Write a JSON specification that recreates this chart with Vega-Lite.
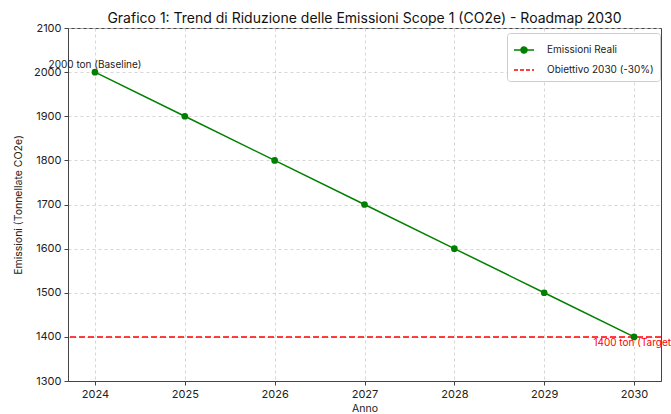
{
  "$schema": "https://vega.github.io/schema/vega-lite/v6.json",
  "width": 593,
  "height": 353,
  "autosize": "none",
  "padding": {"left": 68, "top": 28, "right": 10, "bottom": 33},
  "background": "white",
  "title": {
    "text": "Grafico 1: Trend di Riduzione delle Emissioni Scope 1 (CO2e) - Roadmap 2030",
    "fontSize": 14,
    "font": "Inter",
    "fontWeight": "normal",
    "color": "#111111",
    "anchor": "middle",
    "offset": -4
  },
  "config": {
    "font": "Inter",
    "view": {"stroke": "#444444", "strokeWidth": 1},
    "axis": {
      "domainColor": "#444444",
      "tickColor": "#444444",
      "tickSize": 4,
      "labelFontSize": 11,
      "labelColor": "#222222",
      "titleFontSize": 10.5,
      "titleFontWeight": "normal",
      "titleColor": "#222222",
      "gridDash": [3, 3],
      "gridColor": "#cccccc",
      "gridWidth": 0.8
    }
  },
  "layer": [
    {
      "data": {"values": [{"serie": "Obiettivo 2030 (-30%)", "valore": 1400}]},
      "mark": {"type": "rule", "strokeDash": [6, 3], "strokeWidth": 1.5},
      "encoding": {
        "y": {"field": "valore", "type": "quantitative", "scale": {"domain": [1300, 2100], "nice": false, "zero": false}},
        "color": {"field": "serie", "type": "nominal"}
      }
    },
    {
      "data": {"values": [
        {"anno": 2024, "emissioni": 2000, "serie": "Emissioni Reali"},
        {"anno": 2025, "emissioni": 1900, "serie": "Emissioni Reali"},
        {"anno": 2026, "emissioni": 1800, "serie": "Emissioni Reali"},
        {"anno": 2027, "emissioni": 1700, "serie": "Emissioni Reali"},
        {"anno": 2028, "emissioni": 1600, "serie": "Emissioni Reali"},
        {"anno": 2029, "emissioni": 1500, "serie": "Emissioni Reali"},
        {"anno": 2030, "emissioni": 1400, "serie": "Emissioni Reali"}
      ]},
      "mark": {"type": "line", "strokeWidth": 1.5, "point": {"filled": true, "size": 45, "color": "#008000", "opacity": 1}},
      "encoding": {
        "x": {
          "field": "anno", "type": "quantitative", "title": "Anno",
          "scale": {"domain": [2023.7, 2030.3], "nice": false, "zero": false},
          "axis": {"values": [2024, 2025, 2026, 2027, 2028, 2029, 2030], "format": "d", "labelPadding": 3, "titlePadding": 4}
        },
        "y": {
          "field": "emissioni", "type": "quantitative", "title": "Emissioni (Tonnellate CO2e)",
          "scale": {"domain": [1300, 2100], "nice": false, "zero": false},
          "axis": {"values": [1300, 1400, 1500, 1600, 1700, 1800, 1900, 2000, 2100], "format": "d", "labelPadding": 3, "titlePadding": 10}
        },
        "color": {
          "field": "serie", "type": "nominal",
          "scale": {"domain": ["Emissioni Reali", "Obiettivo 2030 (-30%)"], "range": ["#008000", "#ff0000"]},
          "legend": {
            "title": null,
            "orient": "none",
            "legendX": 439,
            "legendY": 5,
            "padding": 6,
            "strokeColor": "#cccccc",
            "fillColor": "white",
            "cornerRadius": 3,
            "labelFontSize": 10,
            "labelColor": "#222222",
            "labelOffset": 12,
            "rowPadding": 3,
            "symbolSize": 400,
            "symbolStrokeWidth": 1.5,
            "encode": {
              "symbols": {
                "update": {
                  "shape": [
                    {"test": "datum.value === 'Emissioni Reali'", "value": "M-1,0L1,0M-0.3,0A0.3,0.3 0 1,0 0.3,0A0.3,0.3 0 1,0 -0.3,0Z"},
                    {"value": "M-1,0L1,0"}
                  ],
                  "fill": [
                    {"test": "datum.value === 'Emissioni Reali'", "value": "#008000"},
                    {"value": "transparent"}
                  ],
                  "strokeDash": [
                    {"test": "datum.value === 'Emissioni Reali'", "value": [1, 0]},
                    {"value": [4, 2]}
                  ]
                }
              }
            }
          }
        }
      }
    },
    {
      "data": {"values": [{"anno": 2024, "valore": 2000, "etichetta": "2000 ton (Baseline)"}]},
      "mark": {"type": "text", "align": "center", "baseline": "bottom", "dy": -2, "fontSize": 10, "color": "#222222", "clip": false},
      "encoding": {
        "x": {"field": "anno", "type": "quantitative"},
        "y": {"field": "valore", "type": "quantitative"},
        "text": {"field": "etichetta"}
      }
    },
    {
      "data": {"values": [{"anno": 2030, "valore": 1400, "etichetta": "1400 ton (Target)"}]},
      "mark": {"type": "text", "align": "center", "baseline": "top", "dy": 1, "fontSize": 10, "color": "#ff0000", "clip": false},
      "encoding": {
        "x": {"field": "anno", "type": "quantitative"},
        "y": {"field": "valore", "type": "quantitative"},
        "text": {"field": "etichetta"}
      }
    }
  ]
}
